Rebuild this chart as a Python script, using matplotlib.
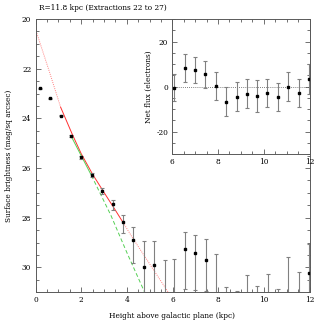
import numpy as np
import matplotlib
matplotlib.use("Agg")
import matplotlib.pyplot as plt
from matplotlib.ticker import MultipleLocator

# surface brightness profile, R = 11.8 kpc
height = [0.19, 0.64, 1.10, 1.55, 2.01, 2.47, 2.93, 3.38, 3.84, 4.29, 4.75, 5.21, 5.65,
          6.08, 6.54, 6.99, 7.45, 7.90, 8.35, 8.81, 9.26, 9.71, 10.16, 10.61, 11.06, 11.52, 11.98]
mag = [22.78, 23.19, 23.89, 24.70, 25.56, 26.27, 26.93, 27.45, 28.17, 28.89, 29.97, 29.91, np.nan,
       np.nan, 29.24, 29.40, 29.69, np.nan, np.nan, np.nan, np.nan, np.nan, np.nan, np.nan, np.nan, np.nan, 30.23]
# error bar ends (mag); inf where the flux minus error is <= 0
mag_hi = [22.76, 23.17, 23.86, 24.66, 25.50, 26.19, 26.81, 27.28, 27.88, 28.36, 28.93, 28.93, 29.68,
          29.66, 28.59, 28.68, 28.84, 29.44, 30.78, 30.95, 30.32, 30.76, 30.28, 30.88, 29.57, 30.20, 29.04]
mag_lo = [22.80, 23.21, 23.92, 24.74, 25.62, 26.36, 27.06, 27.68, 28.61, 29.84, np.inf, np.inf, np.inf,
          np.inf, 30.88, 30.90, 30.95, np.inf, np.inf, np.inf, np.inf, np.inf, np.inf, np.inf, np.inf, np.inf, np.inf]

# model curves
red_x = [0.0, 0.6, 1.1, 1.6, 2.0, 2.5, 3.0, 3.5, 3.84, 4.3, 4.8, 5.3, 5.8, 6.0]
red_y = [20.41, 22.1, 23.55, 24.62, 25.42, 26.25, 26.98, 27.7, 28.2, 28.88, 29.58, 30.28, 30.98, 31.26]
green_x = [1.55, 2.0, 2.45, 3.3, 4.0, 4.78, 4.9]
green_y = [24.7, 25.5, 26.3, 27.9, 29.4, 31.0, 31.25]

# inset: net flux of the outer extractions
flux_x = height[13:]
flux = [-0.4, 8.3, 7.3, 5.5, 0.4, -6.6, -4.4, -3.1, -4.1, -2.9, -4.7, 0.0, -2.6, 3.5]
flux_err = [5.9, 6.3, 5.8, 6.0, 6.3, 6.3, 6.3, 6.5, 7.0, 6.1, 6.3, 6.4, 6.2, 6.7]

plt.rcParams["font.family"] = "DejaVu Serif"
plt.rcParams["font.size"] = 5.3
plt.rcParams["axes.unicode_minus"] = False

SPINE = "0.35"
BAR = "0.5"


def style_axes(ax):
    for s in ax.spines.values():
        s.set_color(SPINE)
        s.set_linewidth(0.7)
    ax.tick_params(which="both", direction="in", top=True, right=True,
                   color=SPINE, width=0.6, labelsize=5.3, pad=3)
    ax.tick_params(which="major", length=3.5)
    ax.tick_params(which="minor", length=2)


fig = plt.figure(figsize=(3.27, 3.27), dpi=100)

ax = fig.add_axes([0.1086, 0.1061, 0.838, 0.8358])
style_axes(ax)
ax.set_xlim(0, 12)
ax.set_ylim(31, 20)
ax.xaxis.set_major_locator(MultipleLocator(2))
ax.xaxis.set_minor_locator(MultipleLocator(0.5))
ax.yaxis.set_major_locator(MultipleLocator(2))
ax.yaxis.set_minor_locator(MultipleLocator(0.5))

# model curves: solid over the fitted range, dotted/dashed outside
ax.plot(red_x[:3], red_y[:3], color="#ff8080", lw=0.7, ls=(0, (1, 1.2)))
ax.plot(red_x[2:9], red_y[2:9], color="#ff3030", lw=0.7)
ax.plot(red_x[8:], red_y[8:], color="#ff8080", lw=0.7, ls=(0, (1, 1.2)))
ax.plot(green_x[:3], green_y[:3], color="#55d055", lw=0.7)
ax.plot(green_x[2:], green_y[2:], color="#55d055", lw=0.7, ls=(0, (4, 2.5)))

hi = np.array(mag_hi)
lo = np.minimum(np.array(mag_lo), 40)
ax.vlines(height, hi, lo, color=BAR, lw=0.8)
ax.plot(height, hi, ls="none", marker="_", ms=3, mew=0.8, color=BAR)
ax.plot(height, lo, ls="none", marker="_", ms=3, mew=0.8, color=BAR)
ax.plot(height, mag, ls="none", marker="s", ms=1.8, color="black")

fig.text(39 / 327, 1 - 8.5 / 327, "R=11.8 kpc (Extractions 22 to 27)", ha="left", va="center")
fig.text(172 / 327, 1 - 315.5 / 327, "Height above galactic plane (kpc)", ha="center", va="center")
fig.text(9 / 327, 1 - 155.6 / 327, "Surface brightness (mag/sq arcsec)", ha="center", va="center",
         rotation=90)

# inset
ins = fig.add_axes([0.5269, 0.5281, 0.4196, 0.4138])
style_axes(ins)
ins.set_xlim(6, 12)
ins.set_ylim(-30, 30)
ins.xaxis.set_major_locator(MultipleLocator(2))
ins.xaxis.set_minor_locator(MultipleLocator(0.5))
ins.yaxis.set_major_locator(MultipleLocator(20))
ins.yaxis.set_minor_locator(MultipleLocator(5))
ins.axhline(0, color="0.35", lw=0.6, ls=(0, (1, 1.5)))
ins.errorbar(flux_x, flux, yerr=flux_err, fmt="s", ms=1.8, color="black",
             ecolor=BAR, elinewidth=0.8, capsize=1.5, capthick=0.8)
fig.text(149 / 327, 1 - 86.5 / 327, "Net flux (electrons)", ha="center", va="center", rotation=90)

fig.savefig("out.png", dpi=100)
